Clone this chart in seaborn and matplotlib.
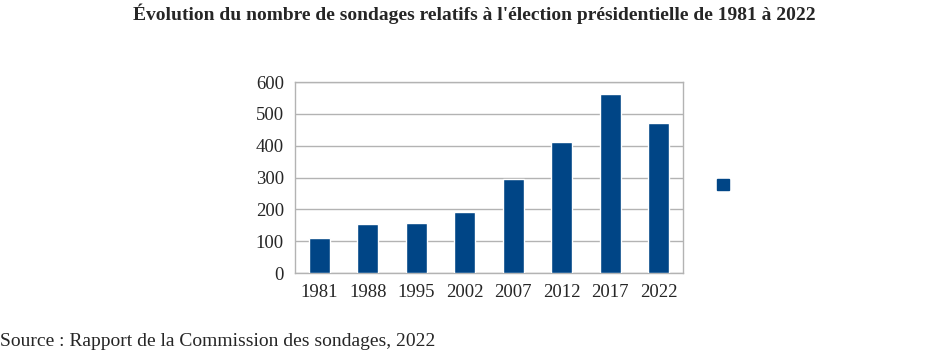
import seaborn as sns
import pandas as pd
import matplotlib.pyplot as plt
from matplotlib.patches import Patch

annees = ["1981", "1988", "1995", "2002", "2007", "2012", "2017", "2022"]
sondages = [110, 154, 157, 192, 294, 410, 561, 470]

df = pd.DataFrame({"annee": annees, "sondages": sondages})

sns.set_style("white")
plt.rcParams["font.family"] = ["Liberation Serif", "DejaVu Serif"]

fig = plt.figure(figsize=(9.48, 3.54), dpi=100)
ax = fig.add_axes([295 / 948, 1 - 273 / 354, (683 - 295) / 948, (273 - 82) / 354])

sns.barplot(data=df, x="annee", y="sondages", color="#004586", width=0.43,
            saturation=1, ax=ax, zorder=3)

ax.set_ylim(0, 600)
ax.set_yticks(range(0, 601, 100))
ax.grid(axis="y", color="#b3b3b3", linewidth=1, zorder=0)
for s in ax.spines.values():
    s.set_color("#b3b3b3")
    s.set_linewidth(1)
ax.set_xlabel("")
ax.set_ylabel("")
ax.tick_params(axis="both", labelsize=13.5, length=0, pad=8)

ax.legend(handles=[Patch(color="#004586")], labels=[""], frameon=False,
          bbox_to_anchor=(723 / 948, 1 - 186 / 354), loc="center",
          bbox_transform=fig.transFigure, handlelength=0.8, handleheight=0.8,
          borderpad=0, handletextpad=0)

fig.text(0.5, 1 - 14 / 354, "Évolution du nombre de sondages relatifs à l'élection présidentielle de 1981 à 2022",
         ha="center", va="center", fontsize=14, fontweight="bold")
fig.text(0, 1 - 342 / 354, "Source : Rapport de la Commission des sondages, 2022",
         ha="left", va="center", fontsize=14)

fig.savefig("out.png", dpi=100)
